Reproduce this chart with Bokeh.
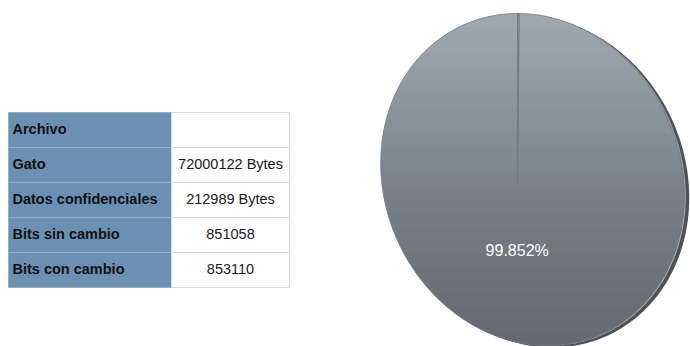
import numpy as np
from bokeh.plotting import figure
from bokeh.models import Range1d, ColumnDataSource
from bokeh.core.properties import value
from bokeh.embed import file_html
from bokeh.resources import INLINE

# ---- data ----
row_labels = ["Archivo", "Gato", "Datos confidenciales", "Bits sin cambio", "Bits con cambio"]
row_values = ["", "72000122 Bytes", "212989 Bytes", "851058", "853110"]
slice_names = ["Bits con cambio", "Bits sin cambio"]
slice_pct = [0.148, 99.852]
slice_labels = ["", "99.852%"]

# ---- layout constants (screen pixels, y down) ----
W, H = 690, 346
TX0, TX1, TX2 = 8, 171, 289
TY0, RH = 112, 35
FONT = "Liberation Sans"

# pie geometry (a slightly sheared "3D" disc)
APEX = (517.0, 183.0)
ECX, ECY, EA, EB, K = 532.0, 179.0, 151.0, 166.0, 0.09


def disc(cx, cy, a, b, t):
    return cx + a * np.cos(t) + K * b * np.sin(t), cy + b * np.sin(t)


def boundary(phi):
    """Point where a ray from the apex at angle phi (clockwise from up) hits the disc edge."""
    dx, dy = np.sin(phi), -np.cos(phi)
    ax_u = APEX[0] - K * (APEX[1] - ECY)
    dx_u = dx - K * dy
    u, v = (ax_u - ECX) / EA, (APEX[1] - ECY) / EB
    du, dv = dx_u / EA, dy / EB
    A = du * du + dv * dv
    B = 2 * (u * du + v * dv)
    C = u * u + v * v - 1
    t = (-B + np.sqrt(B * B - 4 * A * C)) / (2 * A)
    return APEX[0] + t * dx, APEX[1] + t * dy, t


p = figure(width=W, height=H, x_range=Range1d(0, W), y_range=Range1d(H, 0),
           toolbar_location=None, output_backend="svg", min_border=0)
p.axis.visible = False
p.grid.visible = False
p.outline_line_color = None
p.background_fill_color = "white"
p.border_fill_color = "white"

# ---- table ----
n = len(row_labels)
tops = [TY0 + RH * i for i in range(n)]
bots = [t + RH for t in tops]
tsrc = ColumnDataSource(dict(top=tops, bottom=bots,
                             label=row_labels, val=row_values,
                             ty=[t + 16.5 for t in tops]))
p.quad(left=TX0, right=TX1, top="top", bottom="bottom", source=tsrc,
       fill_color="#6b90b3", line_color="#93aec8", line_width=1)
p.quad(left=TX1, right=TX2, top="top", bottom="bottom", source=tsrc,
       fill_color="white", line_color="#dadada", line_width=1)
p.text(x=TX0 + 4, y="ty", text="label", source=tsrc,
       text_font=value(FONT), text_font_style="bold", text_font_size="14.5px",
       text_color="#111111", text_baseline="alphabetic", text_align="left")
p.text(x=(TX1 + TX2) / 2, y="ty", text="val", source=tsrc,
       text_font=value(FONT), text_font_size="14.5px",
       text_color="#1a1a1a", text_baseline="alphabetic", text_align="center")

# ---- pie ----
total = sum(slice_pct)
angles = np.cumsum([0] + [s / total * 2 * np.pi for s in slice_pct])

# rim (3D edge) behind the face
th = np.linspace(0, 2 * np.pi, 240)
rx, ry = disc(ECX + 5, ECY + 2, EA, EB, th)
p.patch(rx, ry, fill_color="#4d5259", line_color=None)
hx, hy = disc(ECX + 1.5, ECY + 0.5, EA, EB, th)
p.patch(hx, hy, fill_color="#a9aeb5", line_color=None)

xs, ys, lx, ly = [], [], [], []
for i in range(len(slice_pct)):
    a0, a1 = angles[i], angles[i + 1]
    m = max(2, int((a1 - a0) / (2 * np.pi) * 300))
    phis = np.linspace(a0, a1, m)
    bx, by = [], []
    for ph in phis:
        x, y, _ = boundary(ph)
        bx.append(x)
        by.append(y)
    xs.append([APEX[0]] + bx)
    ys.append([APEX[1]] + by)
    mid = (a0 + a1) / 2
    _, _, r = boundary(mid)
    lx.append(APEX[0] + 0.42 * r * np.sin(mid))
    ly.append(APEX[1] - 0.42 * r * np.cos(mid))

psrc = ColumnDataSource(dict(xs=xs, ys=ys, name=slice_names, lx=lx, ly=ly, lab=slice_labels))
p.patches("xs", "ys", source=psrc, fill_color="#9fa7b1", line_color=None)

# vertical shading of the disc face: nested, faint dark layers
NL = 24
gx, gy = [], []
for k in range(NL):
    y0 = ECY - EB + 2 * EB * (k + 1) / (NL + 1)
    tt = np.arcsin(np.clip((y0 - ECY) / EB, -1, 1))
    t = np.linspace(tt, np.pi - tt, 140)
    cx_, cy_ = disc(ECX, ECY, EA + 0.5, EB + 0.5, t)
    gx.append(cx_)
    gy.append(cy_)
p.patches(gx, gy, fill_color="black", fill_alpha=4 / 255, line_color=None)

# slice borders on top
p.patches("xs", "ys", source=psrc, fill_color=None,
          line_color="#737981", line_width=0.8)
p.text(x="lx", y="ly", text="lab", source=psrc, text_font=value(FONT),
       text_font_size="16px", text_color="white",
       text_align="center", text_baseline="middle")

open("out.html", "w").write(file_html(p, INLINE))
